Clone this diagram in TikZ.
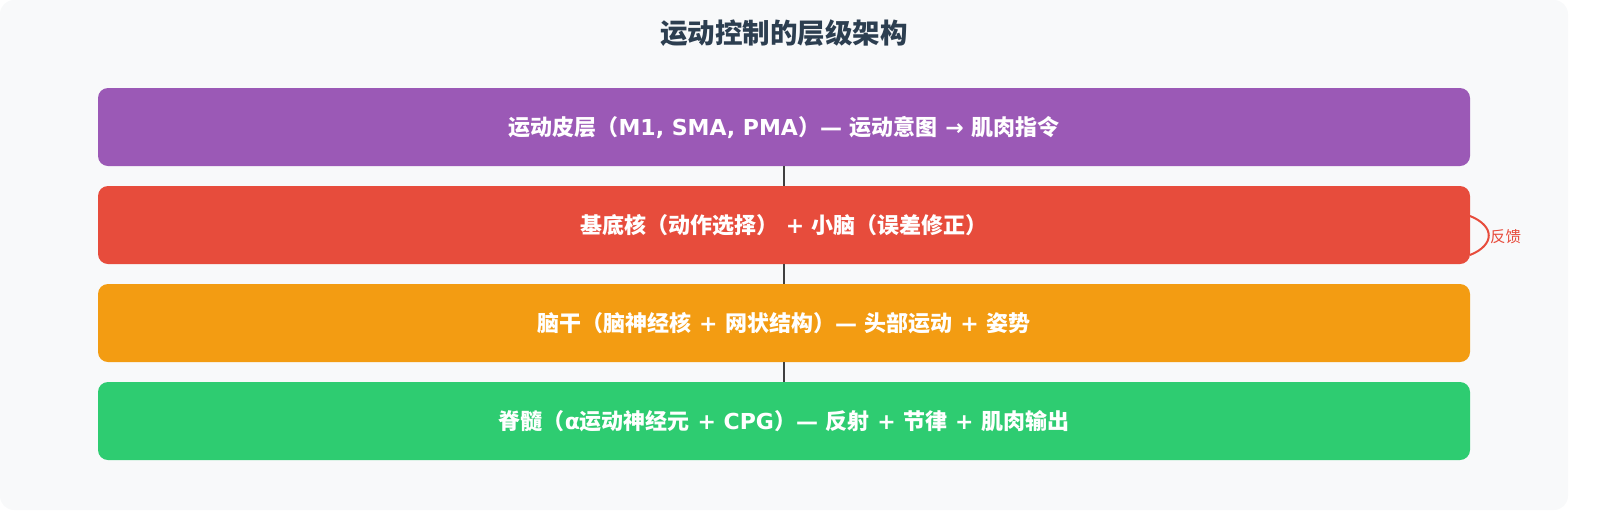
\documentclass[tikz,border=0pt]{standalone}
\usepackage{fontspec}
\setmainfont{Noto Sans CJK SC}
\newfontfamily\latf{DejaVu Sans}
\newcommand\lat[1]{{\latf #1}}
\begin{document}
\begin{tikzpicture}[x=1pt,y=-1pt,
  layer/.style={rounded corners=10pt,minimum width=1372pt,minimum height=78pt,inner sep=0pt,text=white,font=\fontsize{22}{26}\selectfont\bfseries},
  link/.style={draw=black!75,line width=2pt}]
\definecolor{bg}{HTML}{F8F9FA}
\definecolor{cpurple}{HTML}{9B59B6}
\definecolor{cred}{HTML}{E74C3C}
\definecolor{corange}{HTML}{F39C12}
\definecolor{cgreen}{HTML}{2ECC71}
\definecolor{ctitle}{HTML}{2C3E50}
\fill[bg,rounded corners=14pt] (0,0) rectangle (1568,510);
\node[font=\fontsize{27.5}{32}\selectfont\bfseries,text=ctitle] (title) at (784,33) {运动控制的层级架构};
\node[layer,fill=cpurple] (m1) at (784,127) {运动皮层（\lat{M1, SMA, PMA}）\lat{— }运动意图\lat{ → }肌肉指令};
\node[layer,fill=cred] (bg1) at (784,225) {基底核（动作选择）\lat{ + }小脑（误差修正）};
\node[layer,fill=corange] (bs) at (784,323) {脑干（脑神经核\lat{ + }网状结构）\lat{— }头部运动\lat{ + }姿势};
\node[layer,fill=cgreen] (sc) at (784,421) {脊髓（\lat{α}运动神经元\lat{ + CPG}）\lat{— }反射\lat{ + }节律\lat{ + }肌肉输出};
\draw[link] (m1.south) -- (bg1.north);
\draw[link] (bg1.south) -- (bs.north);
\draw[link] (bs.south) -- (sc.north);
\coordinate (fa) at (1470,216);
\coordinate (fb) at (1470,255);
\draw[cred,line width=2pt] (fa) .. controls (1495,226) and (1495,245) .. (fb);
\node[anchor=west,text=cred,font=\fontsize{15.5}{18}\selectfont,inner sep=0pt] (fl) at (1490,237) {反馈};
\pgfresetboundingbox
\useasboundingbox (0,0) rectangle (1600,520);
\end{tikzpicture}
\end{document}
